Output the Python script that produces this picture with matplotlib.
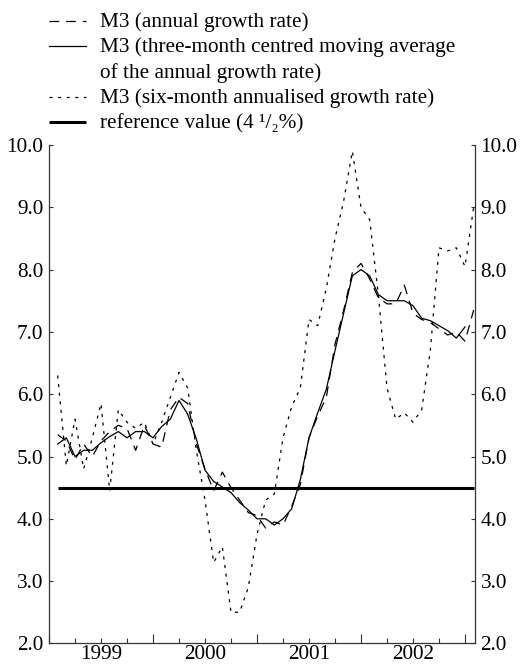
import matplotlib
matplotlib.use("Agg")
import matplotlib.pyplot as plt
from matplotlib.lines import Line2D
import numpy as np
import pandas as pd

# ---------------- data ----------------
months = pd.period_range("1999-01", "2003-01", freq="M")          # 49 months
annual_growth = [5.35, 5.25, 4.95, 5.20, 5.00, 5.25, 5.40, 5.50, 5.45, 5.10, 5.50, 5.20,
                 5.15, 5.75, 5.95, 5.85, 5.20, 4.80, 4.45, 4.75, 4.50, 4.30, 4.10, 4.05,
                 3.85, 3.95, 3.90, 4.20, 4.55, 5.30, 5.65, 5.95, 6.80, 7.35, 7.95, 8.10,
                 7.85, 7.55, 7.45, 7.45, 7.75, 7.30, 7.20, 7.15, 7.05, 6.95, 7.00, 6.85,
                 7.35]
three_month_avg = [5.20, 5.30, 5.00, 5.10, 5.10, 5.22, 5.32, 5.40, 5.30, 5.40, 5.40, 5.30,
                   5.48, 5.60, 5.90, 5.68, 5.28, 4.78, 4.60, 4.51, 4.42, 4.26, 4.14, 4.00,
                   4.00, 3.90, 4.00, 4.16, 4.63, 5.30, 5.70, 6.08, 6.70, 7.30, 7.90, 8.00,
                   7.90, 7.60, 7.50, 7.50, 7.50, 7.42, 7.22, 7.18, 7.10, 7.02, 6.90, 7.08]
six_month_annualised = [6.30, 4.85, 5.60, 4.80, 5.30, 5.85, 4.45, 5.75, 5.55, 5.45, 5.55, 5.20,
                        5.55, 5.95, 6.35, 6.10, 5.10, 4.30, 3.30, 3.55, 2.50, 2.50, 2.90, 3.75,
                        4.30, 4.40, 5.30, 5.80, 6.10, 7.20, 7.10, 7.70, 8.50, 9.10, 9.90, 9.00,
                        8.80, 7.60, 6.10, 5.60, 5.70, 5.55, 5.75, 6.70, 8.35, 8.30, 8.35, 8.05,
                        9.00]
reference_value = 4.5
year_labels = ["1999", "2000", "2001", "2002"]
y_ticks = [2.0, 3.0, 4.0, 5.0, 6.0, 7.0, 8.0, 9.0, 10.0]
legend_labels = ["M3 (annual growth rate)",
                 "M3 (three-month centred moving average",
                 "of the annual growth rate)",
                 "M3 (six-month annualised growth rate)",
                 "reference value (4 \u00b9/\u2082%)"]

# ---------------- layout ----------------
plt.rcParams["font.family"] = ["Liberation Serif", "DejaVu Serif"]
plt.rcParams["lines.scale_dashes"] = False
FS = 15.3
W, H = 521, 670
fig = plt.figure(figsize=(W / 100, H / 100), dpi=100)
ax_l, ax_r, ax_t, ax_b = 49, 475, 145, 643.4
ax = fig.add_axes([ax_l / W, 1 - ax_b / H, (ax_r - ax_l) / W, (ax_b - ax_t) / H])

# month-end positions in fractional years
x = np.array([p.year + p.month / 12 for p in months])
ax.plot(x, six_month_annualised, color="black", lw=0.9, dashes=(2.2, 4.0))
ax.plot(x, annual_growth, color="black", lw=0.9, dashes=(7.0, 5.0))
ax.plot(x[:len(three_month_avg)], three_month_avg, color="black", lw=0.9)
ax.plot(x, [reference_value] * len(x), color="black", lw=2.2, solid_capstyle="butt")

ax.set_ylim(2.0, 10.0)
ax.set_xlim(1999.0, 1999.0 + 426 / 104)

ax.spines["top"].set_visible(False)
for s in ["left", "right", "bottom"]:
    ax.spines[s].set_color("#333333")
    ax.spines[s].set_linewidth(0.9)

ax.set_yticks(y_ticks)
ax.set_yticklabels([f"{v:.1f}" for v in y_ticks])
ax.tick_params(axis="y", direction="in", length=3, width=0.8, color="#333333",
               labelsize=FS, pad=4.0, left=True, right=True, labelleft=True, labelright=True)

yr0 = 1999
major = [yr0 + i for i in range(5)]
minor = [yr0 + i + q / 4 for i in range(4) for q in (1, 2, 3)]
ax.set_xticks(major)
ax.set_xticklabels([""] * len(major))
ax.set_xticks(minor, minor=True)
ax.tick_params(axis="x", which="major", direction="in", length=6.5, width=0.8, color="#333333")
ax.tick_params(axis="x", which="minor", direction="in", length=3.5, width=0.8, color="#333333")
for i, lab in enumerate(year_labels):
    ax.annotate(lab, xy=(yr0 + i + 0.5, 0), xycoords=ax.get_xaxis_transform(),
                xytext=(0, -1.5), textcoords="offset points",
                ha="center", va="top", fontsize=FS)

# ---------------- legend (manual) ----------------
def fy(py):
    return 1 - py / H

base = [26.7, 52.2, 77.7, 103.2, 128.7]
tx = 100 / W
for b, lab in zip(base, legend_labels):
    fig.text(tx, fy(b), lab, ha="left", va="baseline", fontsize=FS)

hx = [49 / W, 86 / W]
fig.add_artist(Line2D(hx, [fy(base[0] - 6)] * 2, color="black", lw=0.9, dashes=(7.0, 5.0)))
fig.add_artist(Line2D(hx, [fy(base[1] - 6.5)] * 2, color="black", lw=0.9))
fig.add_artist(Line2D(hx, [fy(base[3] - 6.5)] * 2, color="black", lw=0.9, dashes=(2.2, 4.0)))
fig.add_artist(Line2D(hx, [fy(base[4] - 7)] * 2, color="black", lw=2.2, solid_capstyle="butt"))

fig.savefig("out.png", dpi=100)
